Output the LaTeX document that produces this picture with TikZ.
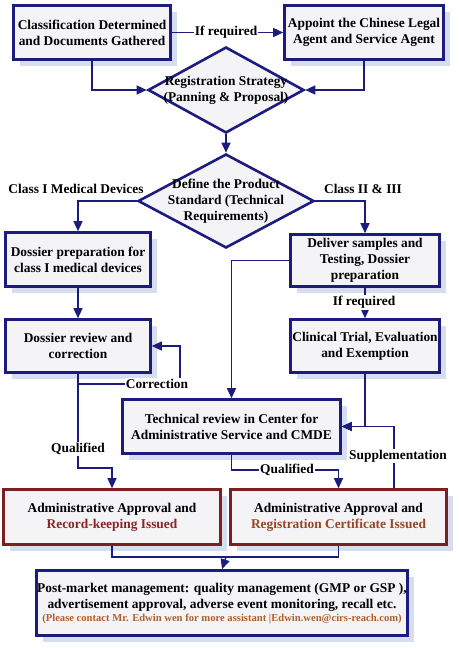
\documentclass[tikz,border=0pt]{standalone}
\usepackage{fontspec}
\setmainfont{Liberation Serif}
\usetikzlibrary{arrows.meta,shapes.geometric,shadows,positioning,calc}
\definecolor{navy}{HTML}{1C1C7E}
\definecolor{maroon}{HTML}{7E1E1E}
\definecolor{boxfill}{HTML}{F4F4F7}
\definecolor{shade}{HTML}{D6DDEE}
\definecolor{recred}{HTML}{8C2323}
\definecolor{certbrown}{HTML}{9A4520}
\definecolor{contact}{HTML}{B0602A}

\begin{document}
\begin{tikzpicture}[x=1pt,y=-1pt,
  navybox/.style={rectangle,draw=navy,line width=2.6pt,fill=boxfill,align=center,inner sep=0pt,
    font=\bfseries\fontsize{13.4}{16}\selectfont,
    drop shadow={shadow xshift=6pt,shadow yshift=-6pt,fill=shade,opacity=1}},
  redbox/.style={navybox,draw=maroon},
  choice/.style={diamond,draw=navy,line width=2.6pt,fill=boxfill,inner sep=0pt},
  inside/.style={align=center,font=\bfseries\fontsize{13.4}{16}\selectfont},
  lbl/.style={fill=white,inner sep=1pt,font=\bfseries\fontsize{13.4}{15}\selectfont},
  edge/.style={draw=navy,line width=1.4pt,-{Triangle[length=10pt,width=9pt]}},
  link/.style={draw=navy,line width=1.4pt}]
\useasboundingbox (0,0) rectangle (458,648);
% boxes
\node(cls)[navybox,minimum width=157,minimum height=54] at (92,32.5){Classification Determined\\and Documents Gathered};
\node(agent)[navybox,minimum width=159,minimum height=54] at (364,32.5){Appoint the Chinese Legal\\Agent and Service Agent};
\node(dos1)[navybox,minimum width=145,minimum height=54] at (78,259.5){Dossier preparation for\\class I medical devices};
\node(smp)[navybox,minimum width=149,minimum height=52] at (365,260.5){Deliver samples and\\Testing, Dossier\\preparation};
\node(rev1)[navybox,minimum width=145,minimum height=53] at (78,346){Dossier review and\\correction};
\node(clin)[navybox,minimum width=149,minimum height=53] at (365,346){Clinical Trial, Evaluation\\and Exemption};
\node(tech)[navybox,minimum width=218,minimum height=54] at (231.5,426.5){Technical review in Center for\\Administrative Service and CMDE};
\node(rec)[redbox,minimum width=217,minimum height=55] at (112,517){Administrative Approval and\\\textcolor{recred}{Record-keeping Issued}};
\node(reg)[redbox,minimum width=216,minimum height=55] at (338.5,517){Administrative Approval and\\\textcolor{certbrown}{Registration Certificate Issued}};
\node(post)[navybox,minimum width=371,minimum height=65] at (222,603){Post-market management: quality management (GMP or GSP ),\\advertisement approval, adverse event monitoring, recall etc.\\[-3pt]
  {\color{contact}\fontsize{10.6}{12}\selectfont (Please contact Mr. Edwin wen for more assistant |Edwin.wen@cirs-reach.com)}};
% decisions
\node(strat)[choice,minimum width=156,minimum height=86] at (226,90){};
\node(stratlbl)[inside] at (strat.center){Registration Strategy\\(Panning \& Proposal)};
\node(std)[choice,minimum width=176,minimum height=94] at (226,201){};
\node(stdlbl)[inside] at (std.center){Define the Product\\Standard (Technical\\Requirements)};
% helper points
\coordinate(corr) at (180,384);
\coordinate(q1) at (78,468);
\coordinate(q2) at (231.5,470);
\coordinate(suppfoot) at (394,488);
\coordinate(merge) at (226,557);
% connectors
\draw [edge] (cls) -- (agent);
\node(ifreq1)[lbl] at (226,32.5){If required};
\draw [edge] (cls.south) |- (strat.west);
\draw [edge] (agent.south) |- (strat.east);
\draw [edge] (strat.south) -- (std.north);
\draw [edge] (std.west) -| (dos1.north);
\draw [edge] (std.east) -| (smp.north);
\node(cl1)[lbl,fill=none] at (76,189){Class I Medical Devices};
\node(cl23)[lbl,fill=none] at (363,189){Class II \& III};
\draw [edge] (smp.west) -| (tech.north);
\draw [edge] (dos1.south) -- (rev1.north);
\draw [edge] (smp.south) -- (clin.north);
\node(ifreq2)[lbl] at (364,302.5){If required};
\draw [edge] (rev1.south) |- (corr) |- (rev1.east);
\node(corrlbl)[lbl] at (157,384){Correction};
\draw [edge] (rev1.south) -- (q1) -| (rec.north);
\node(qual1)[lbl] at (78,449){Qualified};
\draw [edge] (tech.south) -- (q2) -| (reg.north);
\node(qual2)[lbl] at (287,470){Qualified};
\draw [edge] (clin.south) |- (tech.east);
\draw [edge] (suppfoot) |- (tech.east);
\node(supp)[lbl] at (398,456){Supplementation};
\draw [link] (rec.south) |- (merge);
\draw [link] (reg.south) |- (merge);
\draw [edge] (merge) -- (post.north);
\end{tikzpicture}
\end{document}
